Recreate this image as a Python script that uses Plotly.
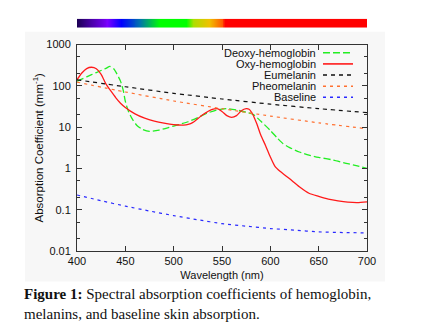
import plotly.graph_objects as go
import numpy as np

# ---------------- data ----------------
oxy_wl = [400, 405, 410, 415, 420, 425, 430, 435, 440, 445, 450, 460, 470, 480, 490, 500,
          510, 515, 520, 530, 540, 545, 550, 555, 560, 565, 570, 575, 578, 582, 586, 590,
          595, 600, 605, 610, 620, 630, 640, 650, 660, 670, 680, 690, 700]
oxy_val = [141, 205, 262, 282, 260, 190, 110, 75, 52, 38, 30, 21, 16.5, 14, 12.5, 11.5,
           11.2, 11.6, 13, 20, 27, 28, 24, 19, 17.3, 19, 25, 28, 27, 20, 12, 6.5,
           3.6, 1.9, 1.1, 0.85, 0.56, 0.36, 0.25, 0.21, 0.18, 0.163, 0.152, 0.148, 0.155]

deoxy_wl = [400, 410, 420, 430, 434, 438, 441, 445, 448, 450, 453, 457, 462, 468, 475, 485,
            495, 505, 515, 525, 535, 545, 555, 565, 575, 582, 590, 600, 607, 613, 620, 630,
            640, 650, 665, 680, 690, 700]
deoxy_val = [129, 165, 210, 265, 295, 260, 200, 130, 75, 42, 25, 16, 11, 8.8, 7.9, 8.5,
             9.8, 11.5, 13.5, 17, 22, 26, 28, 26, 23, 20.5, 14, 8.3, 5.5, 4.0, 3.2, 2.5,
             2.1, 1.85, 1.6, 1.3, 1.15, 1.0]

mel_wl = [400, 450, 500, 550, 600, 650, 700]
eumelanin_val = [140, 95, 66, 48, 36, 28, 22.5]
pheomelanin_val = [123, 71, 43, 28, 18.5, 12.7, 9.1]

base_wl = [400, 425, 450, 475, 500, 525, 550, 575, 600, 625, 650, 675, 700]
baseline_val = [0.227, 0.165, 0.122, 0.093, 0.072, 0.057, 0.046, 0.040, 0.035, 0.032, 0.029, 0.028, 0.0274]

series_names = ["Deoxy-hemoglobin", "Oxy-hemoglobin", "Eumelanin", "Pheomelanin", "Baseline"]
series_colors = ["#22ee22", "#ff1a1a", "#111111", "#ff7030", "#2a2aff"]
series_dash = ["7px,3px", "solid", "4px,4px", "3px,4px", "3px,4px"]
series_width = [1.3, 1.3, 1.2, 1.2, 1.2]

# spectrum bar colour stops (wavelength, colour)
spec_wl = [400, 415, 432, 446, 465, 486, 513, 520, 537, 550, 554, 700]
spec_col = ["#1a0050", "#4a00a8", "#7a00ff", "#0000ff", "#0070b0", "#00ff00", "#00ff00",
            "#a8e000", "#f0c000", "#ff5a00", "#ff0000", "#ff0000"]

y_tickvals = [0.01, 0.1, 1, 10, 100, 1000]
y_ticktext = ["0.01", "0.1", "1", "10", "100", "1000"]
x_tickvals = [400, 450, 500, 550, 600, 650, 700]

# ---------------- figure ----------------
W, H = 435, 327
ml, mr, mt, mb = 77, 68, 14, 76
pw, ph = W - ml - mr, H - mt - mb
plot_bottom_px = H - mb


def px_x(p):
    return (p - ml) / pw


def px_y(p):
    return (plot_bottom_px - p) / ph


fig = go.Figure()

xs = [deoxy_wl, oxy_wl, mel_wl, mel_wl, base_wl]
ys = [deoxy_val, oxy_val, eumelanin_val, pheomelanin_val, baseline_val]
for i in range(5):
    fig.add_trace(go.Scatter(
        x=xs[i], y=ys[i], mode="lines", name=series_names[i],
        line=dict(color=series_colors[i], dash=series_dash[i], width=series_width[i],
                  shape="spline", smoothing=0.6),
        showlegend=False, xaxis="x", yaxis="y"))

# spectrum bar
bar_x = list(range(400, 701))
lo, hi = spec_wl[0], spec_wl[-1]
cscale = [[(w - lo) / (hi - lo), c] for w, c in zip(spec_wl, spec_col)]
fig.add_trace(go.Heatmap(x=bar_x, y=[0], z=[bar_x], colorscale=cscale, showscale=False,
                         zmin=lo, zmax=hi, xaxis="x2", yaxis="y2", hoverinfo="skip"))

main_top = px_y(41)
fig.update_layout(
    width=W, height=H, margin=dict(l=ml, r=mr, t=mt, b=mb),
    paper_bgcolor="white", plot_bgcolor="white",
    font=dict(family="Liberation Sans, Arial, sans-serif", size=11, color="#111"),
    xaxis=dict(domain=[0, 1], range=[400, 700], tickvals=x_tickvals,
               ticks="inside", ticklen=5, tickcolor="#333", mirror="ticks",
               showline=True, linecolor="#333", linewidth=1, showgrid=False, zeroline=False,
               anchor="y",
               title=dict(text="Wavelength (nm)", standoff=5, font=dict(size=11))),
    yaxis=dict(domain=[0, main_top], type="log", range=[-2, 3],
               tickvals=y_tickvals, ticktext=y_ticktext,
               ticks="inside", ticklen=5, tickcolor="#333", mirror="ticks",
               showline=True, linecolor="#333", linewidth=1, showgrid=False, zeroline=False,
               ticklabelstandoff=3,
               minor=dict(ticks="inside", ticklen=3, tickcolor="#333",
                          tickvals=[m * 10.0 ** e for e in range(-2, 3) for m in (2, 5)]),
               title=dict(text="Absorption Coefficient (mm<sup>-1</sup>)", standoff=0,
                          font=dict(size=11.5))),
    xaxis2=dict(domain=[0, 1], range=[400, 700], anchor="y2", visible=False),
    yaxis2=dict(domain=[px_y(24), px_y(14.7)], anchor="x2", visible=False),
)

# faint background panel
fig.add_shape(type="rect", xref="paper", yref="paper", x0=px_x(25), x1=px_x(385),
              y0=px_y(282), y1=px_y(28), fillcolor="#f7f7f7", line=dict(width=0),
              layer="below")

# legend (gnuplot style: text right-aligned, sample to the right)
rows = [49.3, 60.7, 72, 83.3, 94.5]
for i in range(5):
    yy = px_y(rows[i])
    fig.add_annotation(xref="paper", yref="paper", x=px_x(318), y=yy, text=series_names[i],
                       showarrow=False, xanchor="right", yanchor="middle",
                       font=dict(size=11, color="#111"))
    fig.add_shape(type="line", xref="paper", yref="paper", x0=px_x(323), x1=px_x(353),
                  y0=yy, y1=yy,
                  line=dict(color=series_colors[i], dash=series_dash[i], width=series_width[i] + 0.3))

# caption
fig.add_annotation(xref="paper", yref="paper", x=px_x(22), y=px_y(285),
                   text="<b>Figure 1:</b> Spectral absorption coefficients of hemoglobin,<br>"
                        "melanins, and baseline skin absorption.",
                   showarrow=False, xanchor="left", yanchor="top", align="left",
                   font=dict(family="Liberation Serif, Times New Roman, serif", size=15, color="#111"))

fig.write_html("out.html")
